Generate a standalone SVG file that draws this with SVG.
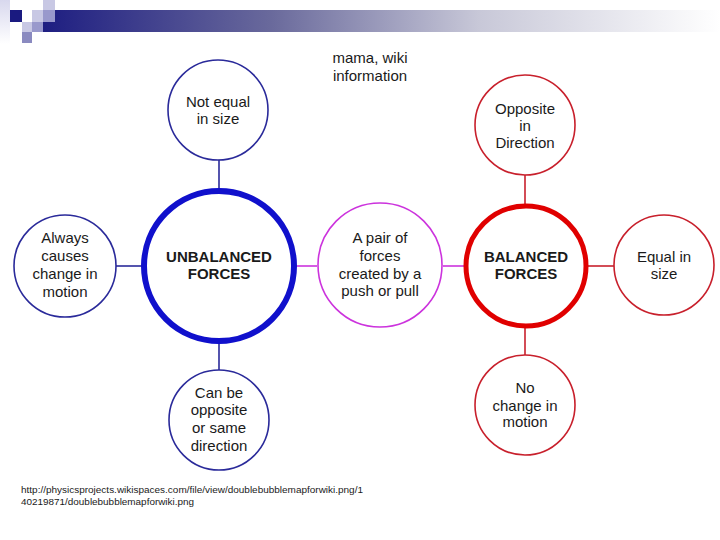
<svg xmlns="http://www.w3.org/2000/svg" width="720" height="540" viewBox="0 0 720 540">
<defs>
<linearGradient id="bar" x1="0" y1="0" x2="1" y2="0">
<stop offset="0" stop-color="#1a1a80"/>
<stop offset="0.35" stop-color="#6a6a9c"/>
<stop offset="0.65" stop-color="#c8c8d8"/>
<stop offset="1" stop-color="#ffffff"/>
</linearGradient>
<linearGradient id="fade" x1="0" y1="0" x2="0" y2="1">
<stop offset="0" stop-color="#d8d8ee"/>
<stop offset="1" stop-color="#ffffff"/>
</linearGradient>
</defs>
<style>
text{font-family:"Liberation Sans",Arial,sans-serif;fill:#1a1a1a;text-anchor:middle;font-size:15px}
.b{font-weight:bold}
.note{font-size:9.5px;text-anchor:start}
.small{fill:#fff;stroke-width:1.6}
.blue{stroke:#2a2a9a}
.red{stroke:#c8202c}
.mag{stroke:#cc33dd}
.conn line{stroke-width:1.6}
</style>
<rect width="720" height="540" fill="#fff"/>
<g id="header">
<rect x="0" y="0" width="10" height="44" fill="url(#fade)"/>
<rect x="32" y="10" width="688" height="22" fill="url(#bar)"/>
<rect x="10" y="10" width="12" height="12" fill="#1a1a80"/>
<rect x="43" y="0" width="12" height="10" fill="#c8c8e4"/>
<rect x="32" y="10" width="11" height="12" fill="#c8c8e4"/>
<rect x="43" y="10" width="12" height="12" fill="#9999cc"/>
<rect x="22" y="22" width="10" height="10" fill="#c8c8e4"/>
<rect x="32" y="22" width="11" height="10" fill="#9999cc"/>
<rect x="22" y="32" width="10" height="11" fill="#8a8ac0"/>
</g>
<g id="connectors" class="conn">
<line class="blue" x1="219" y1="160" x2="219" y2="188"/>
<line class="blue" x1="219" y1="344" x2="219" y2="370"/>
<line class="blue" x1="116" y1="266" x2="142" y2="266"/>
<line class="mag" x1="297" y1="266" x2="317" y2="266"/>
<line class="mag" x1="443" y1="266" x2="464" y2="266"/>
<line class="red" x1="525" y1="175" x2="525" y2="204"/>
<line class="red" x1="525" y1="328" x2="525" y2="355"/>
<line class="red" x1="588" y1="266" x2="614" y2="266"/>
</g>
<g id="unbalanced">
<circle cx="219" cy="266" r="75" fill="#fff" stroke="#1010cc" stroke-width="6"/>
<text class="b" x="219" y="262">UNBALANCED</text>
<text class="b" x="219" y="279">FORCES</text>
</g>
<g id="not-equal">
<circle class="small blue" cx="218" cy="110" r="50"/>
<text x="218" y="107">Not equal</text>
<text x="218" y="124">in size</text>
</g>
<g id="always">
<circle class="small blue" cx="65" cy="266" r="51"/>
<text x="65" y="243">Always</text>
<text x="65" y="261">causes</text>
<text x="65" y="279">change in</text>
<text x="65" y="297">motion</text>
</g>
<g id="can-be">
<circle class="small blue" cx="219" cy="420" r="50"/>
<text x="219" y="398">Can be</text>
<text x="219" y="415">opposite</text>
<text x="219" y="433">or same</text>
<text x="219" y="451">direction</text>
</g>
<g id="pair">
<circle class="small mag" cx="380" cy="265" r="62"/>
<text x="380" y="243">A pair of</text>
<text x="380" y="261">forces</text>
<text x="380" y="279">created by a</text>
<text x="380" y="296">push or pull</text>
</g>
<g id="balanced">
<circle cx="526" cy="266" r="60" fill="#fff" stroke="#e00000" stroke-width="5"/>
<text class="b" x="526" y="262">BALANCED</text>
<text class="b" x="526" y="279">FORCES</text>
</g>
<g id="opposite">
<circle class="small red" cx="525" cy="125" r="50"/>
<text x="525" y="114">Opposite</text>
<text x="525" y="131">in</text>
<text x="525" y="148">Direction</text>
</g>
<g id="no-change">
<circle class="small red" cx="525" cy="405" r="50"/>
<text x="525" y="393">No</text>
<text x="525" y="411">change in</text>
<text x="525" y="427">motion</text>
</g>
<g id="equal">
<circle class="small red" cx="664" cy="265" r="50"/>
<text x="664" y="262">Equal in</text>
<text x="664" y="279">size</text>
</g>
<g id="notes">
<text x="370" y="63">mama, wiki</text>
<text x="370" y="81">information</text>
<text class="note" x="21" y="493" textLength="342" lengthAdjust="spacingAndGlyphs">http://physicsprojects.wikispaces.com/file/view/doublebubblemapforwiki.png/1</text>
<text class="note" x="21" y="505" textLength="173" lengthAdjust="spacingAndGlyphs">40219871/doublebubblemapforwiki.png</text>
</g>
</svg>
